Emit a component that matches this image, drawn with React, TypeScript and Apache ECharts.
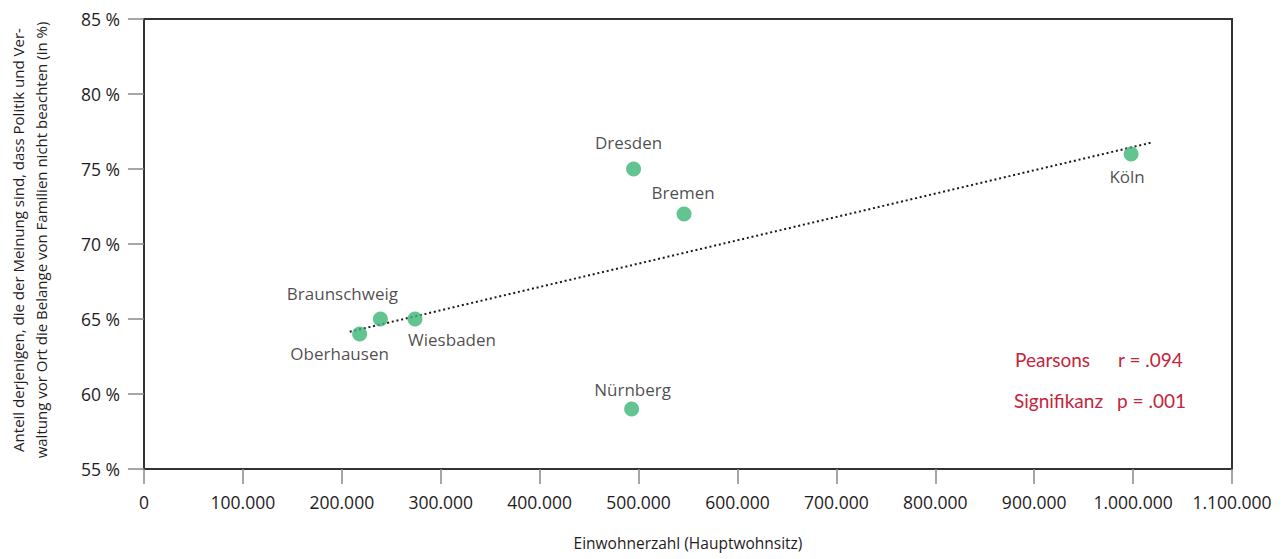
import React, { useEffect, useRef } from "react";
import * as echarts from "echarts";

const cities = ["Oberhausen", "Braunschweig", "Wiesbaden", "Nürnberg", "Dresden", "Bremen", "Köln"];
const population = [218000, 239000, 274000, 493000, 495000, 546000, 998000];
const share = [64, 65, 65, 59, 75, 72, 76];
const trendX = [208000, 1018000];
const trendY = [64.15, 76.75];
const xTicks = { min: 0, max: 1100000, step: 100000 };
const yTicks = { min: 55, max: 85, step: 5 };

// label offsets (layout only)
const labelOffsets: Record<string, [number, number]> = {
  Oberhausen: [-20, 19],
  Braunschweig: [-38, -26],
  Wiesbaden: [37, 20],
  "Nürnberg": [1, -20],
  Dresden: [-5, -27],
  Bremen: [-1, -22],
  "Köln": [-4, 22],
};

const FONT = "'Open Sans', sans-serif";
const TEXT = "#1f1c1d";

export default function App() {
  const ref = useRef<HTMLDivElement>(null);
  useEffect(() => {
    document.body.style.margin = "0";
    const chart = echarts.init(ref.current!, undefined, { renderer: "svg" });
    const points = cities.map((c, i) => ({
      name: c,
      value: [population[i], share[i]],
      label: { offset: labelOffsets[c] },
    }));
    chart.setOption({
      animation: false,
      grid: {
        left: 144,
        right: 51,
        top: 19,
        bottom: 90,
        show: true,
        borderColor: "#333",
        borderWidth: 2,
      },
      xAxis: {
        type: "value",
        min: xTicks.min,
        max: xTicks.max,
        interval: xTicks.step,
        name: "Einwohnerzahl (Hauptwohnsitz)",
        nameLocation: "middle",
        nameGap: 66,
        nameTextStyle: { fontFamily: FONT, fontSize: 15.5, color: TEXT },
        axisLine: { show: true, lineStyle: { color: "#333", width: 2 } },
        axisTick: { show: true, length: 15, lineStyle: { color: "#888", width: 1.5 } },
        axisLabel: {
          margin: 24,
          fontFamily: FONT,
          fontSize: 17.5,
          color: TEXT,
          formatter: (v: number) => v.toLocaleString("de-DE"),
        },
        splitLine: { show: false },
      },
      yAxis: {
        type: "value",
        min: yTicks.min,
        max: yTicks.max,
        interval: yTicks.step,
        axisLine: { show: true, lineStyle: { color: "#333", width: 2 } },
        axisTick: { show: true, length: 16, lineStyle: { color: "#888", width: 1.5 } },
        axisLabel: {
          margin: 24,
          fontFamily: FONT,
          fontSize: 17.5,
          color: TEXT,
          formatter: "{value} %",
        },
        splitLine: { show: false },
      },
      series: [
        {
          type: "line",
          data: trendX.map((x, i) => [x, trendY[i]]),
          symbol: "none",
          silent: true,
          lineStyle: { color: "#1a1a1a", width: 2, type: [2, 2.8] },
          z: 1,
        },
        {
          type: "scatter",
          data: points,
          symbolSize: 15,
          itemStyle: { color: "#3bb676" },
          z: 2,
          label: {
            show: true,
            position: "inside",
            formatter: "{b}",
            fontFamily: FONT,
            fontSize: 17,
            color: TEXT,
            align: "center",
            verticalAlign: "middle",
          },
        },
      ],
      graphic: [
        {
          type: "text",
          x: 29.5,
          y: 240,
          rotation: Math.PI / 2,
          style: {
            text:
              "Anteil derjenigen, die der Meinung sind, dass Politik und Ver-\nwaltung vor Ort die Belange von Familien nicht beachten (in %)",
            font: `15px ${FONT}`,
            fill: TEXT,
            align: "center",
            verticalAlign: "middle",
            lineHeight: 23,
          },
        },
        {
          type: "text",
          x: 1015,
          y: 359,
          style: { text: "Pearsons", font: "19px Lato", fill: "#c4243c", align: "left", verticalAlign: "middle" },
        },
        {
          type: "text",
          x: 1118,
          y: 359,
          style: { text: "r = .094", font: "19px Lato", fill: "#c4243c", align: "left", verticalAlign: "middle" },
        },
        {
          type: "text",
          x: 1014,
          y: 400,
          style: { text: "Signifikanz", font: "19px Lato", fill: "#c4243c", align: "left", verticalAlign: "middle" },
        },
        {
          type: "text",
          x: 1117,
          y: 400,
          style: { text: "p = .001", font: "19px Lato", fill: "#c4243c", align: "left", verticalAlign: "middle" },
        },
      ],
    });
    return () => chart.dispose();
  }, []);
  return <div ref={ref} style={{ width: 1283, height: 559 }} />;
}
